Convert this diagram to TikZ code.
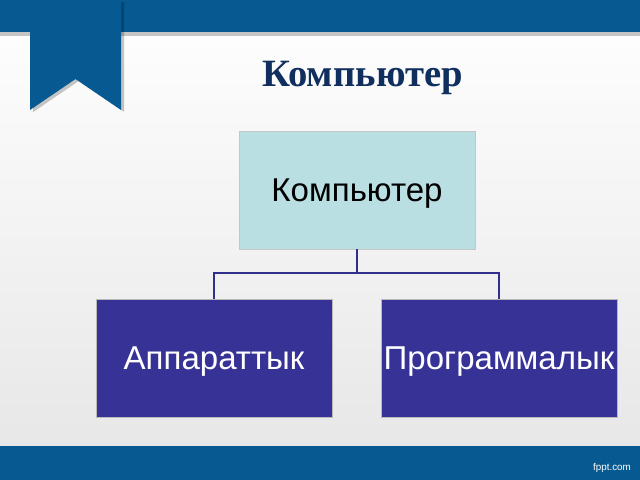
\documentclass[tikz,border=0pt]{standalone}
\usepackage{fontspec}
\setmainfont{Liberation Serif}
\setsansfont{Liberation Sans}
\usetikzlibrary{positioning,shadows}

\definecolor{barblue}{RGB}{6,89,145}
\definecolor{titleblue}{RGB}{16,46,94}
\definecolor{topfill}{RGB}{186,223,227}
\definecolor{childfill}{RGB}{55,50,150}
\definecolor{linkblue}{RGB}{48,48,140}

\begin{document}
\begin{tikzpicture}[
  x=0.025cm,y=-0.025cm,
  font=\sffamily\fontsize{23.5}{28}\selectfont,
  rootbox/.style={fill=topfill,draw=gray!45,line width=0.5pt,
                  minimum width=236*0.025cm,minimum height=118*0.025cm,
                  text height=16.8pt,text depth=0pt,text=black},
  childbox/.style={fill=childfill,draw=gray!55,line width=0.5pt,
                   minimum width=236*0.025cm,minimum height=118*0.025cm,
                   text height=16.8pt,text depth=0pt,
                   text=white,inner sep=0pt},
  link/.style={draw=linkblue,line width=1.3pt},
  softshadow/.style={drop shadow={fill=black,opacity=0.22,#1}}
]
\useasboundingbox (0,0) rectangle (640,480);
% background
\shade[top color=white,bottom color=gray!20] (0,0) rectangle (640,480);
\fill[barblue,softshadow={shadow yshift=-1mm,shadow xshift=0mm}] (0,0) rectangle (640,32);
\fill[barblue] (0,446) rectangle (640,480);
% ribbon
\fill[barblue,softshadow={shadow xshift=0.8mm,shadow yshift=-0.5mm}]
  (30,0) -- (121,0) -- (121,110) -- (75.5,79) -- (30,110) -- cycle;
\node[text=white,font=\sffamily\fontsize{7}{8}\selectfont] (site) at (612,468) {fppt.com};

\node[font=\rmfamily\bfseries\fontsize{27.5}{32}\selectfont,text=titleblue,
      anchor=base] (title) at (362.5,86.5) {Компьютер};

\node[rootbox] (comp) at (357,190) {Компьютер};
\node[childbox] (hw) at (214,358) {Аппараттык};
\node[childbox] (sw) at (499,358) {Программалык};

\draw[link] (comp.south) -- ++(0,24) -| (hw.north);
\draw[link] (comp.south) -- ++(0,24) -| (sw.north);
\end{tikzpicture}
\end{document}
